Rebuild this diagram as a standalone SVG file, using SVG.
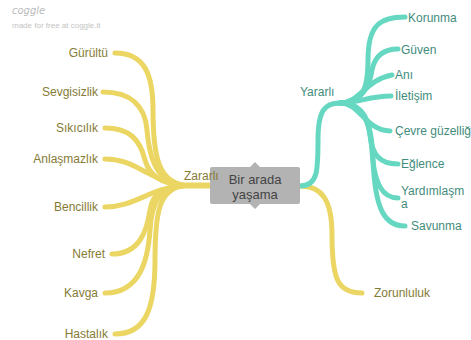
<svg xmlns="http://www.w3.org/2000/svg" width="471" height="340" viewBox="0 0 471 340">
<style>
.y{fill:none;stroke:#ebd663;stroke-width:5;stroke-linecap:round}
.t{fill:none;stroke:#66d8c2;stroke-width:5;stroke-linecap:round}
.ly{font-family:"Liberation Sans",Arial,sans-serif;font-size:12px;fill:#857b36}
.lt{font-family:"Liberation Sans",Arial,sans-serif;font-size:12px;fill:#3f8c7c}
.c{font-family:"Liberation Sans",Arial,sans-serif;font-size:13px;fill:#444;text-anchor:middle}
</style>
<rect width="471" height="340" fill="#fff"/>
<g id="watermark">
<text x="12" y="14" font-family="'DejaVu Sans',sans-serif" font-style="italic" font-size="10" fill="#bbb">coggle</text>
<text x="12" y="28" font-family="'Liberation Sans',Arial,sans-serif" font-size="8" fill="#c4c4c4">made for free at coggle.it</text>
</g>
<g id="connectors">
<path class="y" d="M115,53 C145,53 153,75 153,110 C153,160 160,180 182,185"/>
<path class="y" d="M103,92 C130,92 145,105 147,130 C150,165 160,182 182,185"/>
<path class="y" d="M105,128 C130,128 140,140 145,160 C150,178 165,184 182,185"/>
<path class="y" d="M105,159 C135,159 145,178 182,185"/>
<path class="y" d="M105,207 C135,207 150,188 182,186"/>
<path class="y" d="M112,254 C140,254 147,230 150,210 C153,192 165,187 182,186"/>
<path class="y" d="M105,293 C140,293 148,260 150,230 C152,200 160,188 182,186"/>
<path class="y" d="M115,334 C145,334 155,310 155,260 C155,210 160,190 182,186"/>
<path class="y" style="stroke-width:6" d="M180,185.5 L210,185.5"/>
<path class="y" d="M300,186 C322,186 332,200 332,235 C332,280 338,293 362,293"/>
<path class="t" d="M300,186 C318,186 318,170 318,140 C318,110 325,103 340,103"/>
<path class="t" d="M340,103 C362,103 368,90 368,60 C368,25 380,17 405,17"/>
<path class="t" d="M340,103 C362,103 370,85 372,70 C375,55 385,49 398,49"/>
<path class="t" d="M340,103 C360,103 365,80 392,75"/>
<path class="t" d="M340,103 C360,103 368,96 391,96"/>
<path class="t" d="M340,103 C360,103 365,130 390,131"/>
<path class="t" d="M340,103 C360,103 368,115 370,135 C372,155 380,164 398,164"/>
<path class="t" d="M340,103 C362,103 370,120 372,150 C374,185 383,198 398,198"/>
<path class="t" d="M340,103 C365,103 372,125 373,160 C375,210 385,226 405,226"/>
</g>
<g id="center">
<rect x="210" y="167" width="90" height="37" rx="2" fill="#b3b3b3"/>
<path d="M250,167 L255,162 L260,167 Z M250,204 L255,209 L260,204 Z" fill="#b3b3b3"/>
<text class="c" x="255" y="184">Bir arada</text>
<text class="c" x="255" y="199">yaşama</text>
</g>
<g id="zararli"><text class="ly" x="184" y="180">Zararlı</text></g>
<g id="gurultu"><text class="ly" x="108" y="57" text-anchor="end">Gürültü</text></g>
<g id="sevgisizlik"><text class="ly" x="98" y="96" text-anchor="end">Sevgisizlik</text></g>
<g id="sikicilik"><text class="ly" x="98" y="132" text-anchor="end">Sıkıcılık</text></g>
<g id="anlasmazlik"><text class="ly" x="98" y="163" text-anchor="end">Anlaşmazlık</text></g>
<g id="bencillik"><text class="ly" x="98" y="211" text-anchor="end">Bencillik</text></g>
<g id="nefret"><text class="ly" x="105" y="258" text-anchor="end">Nefret</text></g>
<g id="kavga"><text class="ly" x="98" y="297" text-anchor="end">Kavga</text></g>
<g id="hastalik"><text class="ly" x="108" y="338" text-anchor="end">Hastalık</text></g>
<g id="zorunluluk"><text class="ly" x="374" y="297">Zorunluluk</text></g>
<g id="yararli"><text class="lt" x="300" y="96">Yararlı</text></g>
<g id="korunma"><text class="lt" x="408" y="22">Korunma</text></g>
<g id="guven"><text class="lt" x="401" y="54">Güven</text></g>
<g id="ani"><text class="lt" x="395" y="79">Anı</text></g>
<g id="iletisim"><text class="lt" x="395" y="100">İletişim</text></g>
<g id="cevre"><text class="lt" x="395" y="135">Çevre güzelliği</text></g>
<g id="eglence"><text class="lt" x="401" y="168">Eğlence</text></g>
<g id="yardimlasma"><text class="lt" x="401" y="195">Yardımlaşm</text><text class="lt" x="401" y="208">a</text></g>
<g id="savunma"><text class="lt" x="411" y="230">Savunma</text></g>
</svg>
